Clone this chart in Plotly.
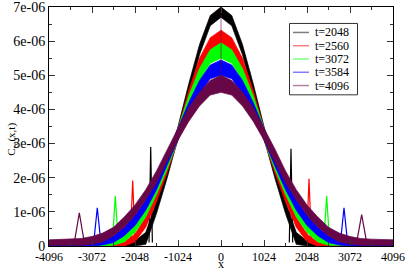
import plotly.graph_objects as go

# ---------------- data (values of C in units of 1e-6) ----------------
labels = ["t=2048", "t=2560", "t=3072", "t=3584", "t=4096"]
colors = ["#000000", "#ff0000", "#00ff00", "#0000ff", "#670748"]

# |x| grid of the half profile (curves are symmetric about x=0)
abs_x = [0, 256, 512, 768, 1024, 1280, 1536, 1792, 2048, 2304, 2560,
         2816, 3072, 3328, 3584, 3840, 4096]

# upper / lower edges of the noisy band of each curve
upper_2048 = [7.00, 6.75, 5.90, 4.75, 3.50, 2.35, 1.30, 0.40, 0.15, 0.06, 0.05, 0.05, 0.05, 0.05, 0.05, 0.05, 0.05]
lower_2048 = [6.70, 6.45, 5.60, 4.40, 3.15, 2.00, 0.95, 0.05, 0.00, 0.00, 0.00, 0.00, 0.00, 0.00, 0.00, 0.00, 0.00]
upper_2560 = [6.32, 6.10, 5.50, 4.55, 3.45, 2.50, 1.60, 0.85, 0.35, 0.12, 0.08, 0.10, 0.10, 0.12, 0.12, 0.15, 0.15]
lower_2560 = [5.90, 5.70, 5.15, 4.20, 3.10, 2.15, 1.30, 0.55, 0.12, 0.00, 0.00, 0.00, 0.00, 0.00, 0.00, 0.00, 0.00]
upper_3072 = [5.95, 5.75, 5.20, 4.40, 3.45, 2.60, 1.80, 1.15, 0.65, 0.35, 0.15, 0.10, 0.10, 0.12, 0.12, 0.15, 0.15]
lower_3072 = [5.50, 5.35, 4.85, 4.05, 3.10, 2.25, 1.50, 0.85, 0.40, 0.12, 0.02, 0.00, 0.00, 0.00, 0.00, 0.00, 0.00]
upper_3584 = [5.45, 5.30, 4.85, 4.20, 3.45, 2.70, 1.95, 1.35, 0.90, 0.55, 0.30, 0.15, 0.10, 0.12, 0.12, 0.15, 0.15]
lower_3584 = [5.00, 4.90, 4.45, 3.85, 3.10, 2.35, 1.65, 1.05, 0.60, 0.30, 0.10, 0.03, 0.00, 0.00, 0.00, 0.00, 0.00]
upper_4096 = [5.00, 4.85, 4.50, 4.05, 3.45, 2.85, 2.20, 1.65, 1.20, 0.85, 0.55, 0.38, 0.28, 0.22, 0.20, 0.20, 0.18]
lower_4096 = [4.50, 4.42, 4.10, 3.65, 3.10, 2.50, 1.85, 1.35, 0.90, 0.55, 0.30, 0.12, 0.05, 0.02, 0.02, 0.02, 0.02]

uppers = [upper_2048, upper_2560, upper_3072, upper_3584, upper_4096]
lowers = [lower_2048, lower_2560, lower_3072, lower_3584, lower_4096]

# side peaks (front peaks) of each curve
peak_x_left = [-1674, -2103, -2517, -2946, -3374]
peak_x_right = [1667, 2096, 2516, 2929, 3350]
peak_y_left = [2.90, 1.92, 1.46, 1.12, 0.97]
peak_y_right = [2.85, 1.97, 1.46, 1.12, 0.92]
peak_base = [0.10, 0.20, 0.10, 0.10, 0.20]
peak_halfwidth = [40, 55, 70, 85, 105]

# central spike at x = 0 (top curve)
center_x = [0, 0]
center_y = [4.70, 7.50]

x_ticks = [-4096, -3072, -2048, -1024, 0, 1024, 2048, 3072, 4096]
y_ticks = [0, 1, 2, 3, 4, 5, 6, 7]
y_ticktext = ["0", "1e-06", "2e-06", "3e-06", "4e-06", "5e-06", "6e-06", "7e-06"]

# ---------------- figure ----------------
W, H = 407, 270
L, R, T, B = 49, 393, 7, 246.5


def px(xp):
    return (xp - L) / (R - L)


def py(yp):
    return (B - yp) / (B - T)


fig = go.Figure()
full_x = [-v for v in abs_x[::-1]] + abs_x[1:]
for i in range(5):
    up = uppers[i][::-1] + uppers[i][1:]
    lo = lowers[i][::-1] + lowers[i][1:]
    fig.add_trace(go.Scatter(
        x=full_x + full_x[::-1], y=up + lo[::-1],
        fill="toself", fillcolor=colors[i], mode="lines",
        line=dict(color=colors[i], width=0.7), showlegend=False,
        hoverinfo="skip"))
    for cx, cy in ((peak_x_left[i], peak_y_left[i]), (peak_x_right[i], peak_y_right[i])):
        hw = peak_halfwidth[i]
        fig.add_trace(go.Scatter(
            x=[cx - hw, cx, cx + hw], y=[peak_base[i], cy, peak_base[i]],
            mode="lines", line=dict(color=colors[i], width=1.2),
            showlegend=False, hoverinfo="skip"))

fig.add_trace(go.Scatter(x=center_x, y=center_y, mode="lines",
                         line=dict(color=colors[4], width=1), opacity=0.6,
                         showlegend=False, hoverinfo="skip"))

font = dict(family="Liberation Serif", size=12, color="black")
yfont = dict(family="Liberation Serif", size=14, color="black")

axis_common = dict(showline=True, linecolor="black", linewidth=1, mirror="ticks",
                   ticks="inside", ticklen=6, tickcolor="#333", tickwidth=1,
                   showgrid=False, zeroline=False, automargin=False,
                   ticklabeloverflow="allow")

fig.update_xaxes(range=[-4096, 4096], tickmode="array", tickvals=x_ticks,
                 ticktext=[str(v) for v in x_ticks], tickfont=font,
                 minor=dict(ticks="inside", ticklen=3, dtick=512, tick0=0,
                            tickcolor="#333", showgrid=False),
                 **axis_common)
fig.update_yaxes(range=[0, 7], tickmode="array", tickvals=y_ticks, ticktext=y_ticktext,
                 tickfont=yfont,
                 minor=dict(ticks="inside", ticklen=3, dtick=0.5, tick0=0,
                            tickcolor="#333", showgrid=False),
                 **axis_common)

shapes = []
annotations = []
# legend box
shapes.append(dict(type="rect", xref="paper", yref="paper",
                   x0=px(289.5), x1=px(357.5), y0=py(95), y1=py(23.5),
                   line=dict(color="#333", width=1), fillcolor="white", layer="above"))
for i, lab in enumerate(labels):
    yy = 32.5 + 13.3 * i
    shapes.append(dict(type="line", xref="paper", yref="paper",
                       x0=px(293), x1=px(309), y0=py(yy), y1=py(yy),
                       line=dict(color=colors[i], width=1.5), opacity=0.5,
                       layer="above"))
    annotations.append(dict(text=lab, xref="paper", yref="paper", x=px(313),
                            y=py(yy), xanchor="left", yanchor="middle",
                            showarrow=False, font=font))

annotations.append(dict(text="C<sub>ee</sub>(x,t)", xref="paper", yref="paper",
                        x=px(12), y=py(140), textangle=-90, xanchor="center",
                        yanchor="middle", showarrow=False,
                        font=dict(family="Liberation Serif", size=11, color="black")))
annotations.append(dict(text="x", xref="paper", yref="paper", x=px(221), y=py(264.5),
                        xanchor="center", yanchor="middle", showarrow=False,
                        font=font))

fig.update_layout(template="none", width=W, height=H,
                  margin=dict(l=L, r=W - R, t=T, b=H - B),
                  plot_bgcolor="white", paper_bgcolor="white",
                  showlegend=False, shapes=shapes, annotations=annotations)

fig.write_html("out.html", config={"displayModeBar": False},
               post_script="document.body.style.margin='0';document.body.style.padding='0';")
